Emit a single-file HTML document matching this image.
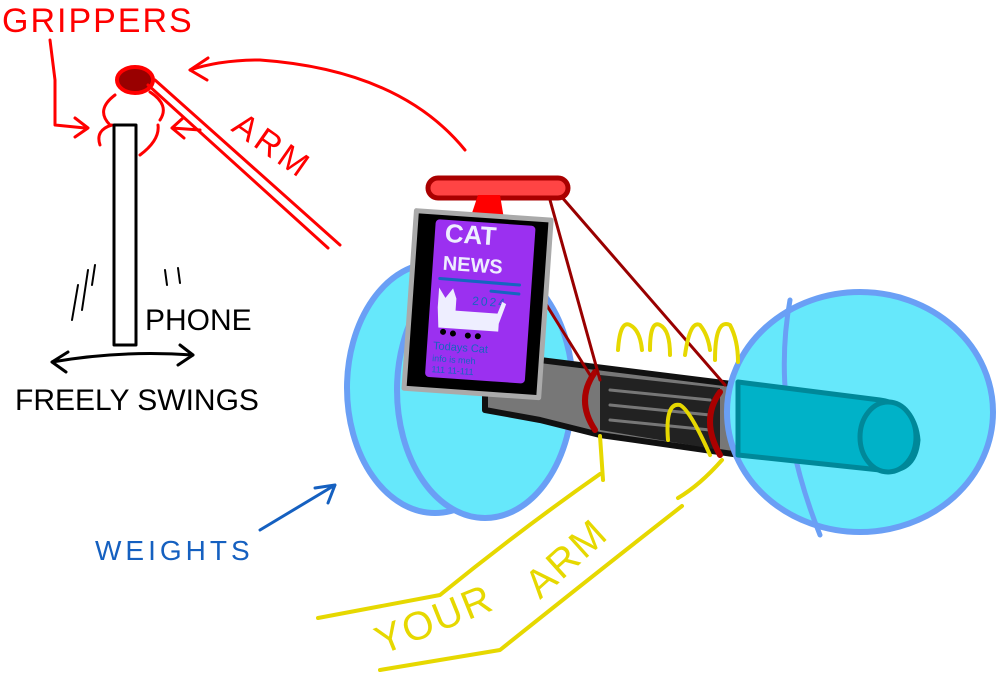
<!DOCTYPE html>
<html><head><meta charset="utf-8"><style>
html,body{margin:0;padding:0;background:#fff;}
svg{display:block;}
text{font-family:"Liberation Sans",sans-serif;}
</style></head><body>
<svg width="996" height="673" viewBox="0 0 996 673" xmlns="http://www.w3.org/2000/svg">
<g stroke-linecap="round" stroke-linejoin="round">
<!-- GRIPPERS -->
<text x="2" y="32" font-size="34" fill="#f00" letter-spacing="2">GRIPPERS</text>
<path d="M50 40 L55 80 L55 125 L85 128" stroke="#f00" stroke-width="3" fill="none"/>
<path d="M75 118 L88 128 L75 137" stroke="#f00" stroke-width="3" fill="none"/>
<!-- gripper -->
<path d="M110 125 Q95 110 115 95 M160 120 Q170 105 150 92 M100 145 Q95 130 112 125 M140 155 Q160 140 158 125" stroke="#f00" stroke-width="3" fill="none"/>
<ellipse cx="135" cy="80" rx="18" ry="13" fill="#900" stroke="#f00" stroke-width="4"/>
<!-- arm -->
<path d="M148 85 L328 248 M155 80 L340 245" stroke="#f00" stroke-width="3" fill="none"/>
<text x="230" y="130" font-size="34" fill="#f00" transform="rotate(35 230 130)" letter-spacing="4">ARM</text>
<path d="M172 128 L200 130 M172 128 L183 118 M172 128 L184 138" stroke="#f00" stroke-width="3" fill="none"/>
<path d="M465 150 Q400 70 260 60 Q220 60 190 70" stroke="#f00" stroke-width="3" fill="none"/>
<path d="M190 70 L208 58 M190 70 L207 80" stroke="#f00" stroke-width="3" fill="none"/>
<!-- phone stick -->
<rect x="114" y="125" width="22" height="220" fill="#fff" stroke="#000" stroke-width="3"/>
<path d="M78 285 L72 320 M88 270 L82 310 M95 265 L92 285 M165 270 L167 285 M178 268 L180 283" stroke="#000" stroke-width="2" fill="none"/>
<text x="145" y="330" font-size="30" fill="#000">PHONE</text>
<path d="M52 362 Q120 350 193 355 M52 362 L68 352 M52 362 L66 372 M193 355 L180 345 M193 355 L178 365" stroke="#000" stroke-width="3" fill="none"/>
<text x="15" y="410" font-size="30" fill="#000">FREELY SWINGS</text>
<!-- WEIGHTS -->
<text x="95" y="560" font-size="28" fill="#1560c0" letter-spacing="4">WEIGHTS</text>
<path d="M260 530 L335 485 M335 485 L315 488 M335 485 L328 503" stroke="#1560c0" stroke-width="3" fill="none"/>
<!-- left weight -->
<ellipse cx="435" cy="388" rx="88" ry="125" fill="#66e8fb" stroke="#6a9ff5" stroke-width="6"/>
<ellipse cx="485" cy="390" rx="88" ry="128" fill="#66e8fb" stroke="#6a9ff5" stroke-width="6"/>
<!-- bar -->
<path d="M485 395 L540 360 L740 385 L740 455 L600 435 L540 420 L485 410 Z" fill="#777" stroke="#111" stroke-width="6"/>
<path d="M600 375 L720 388 L720 450 L600 430 Z" fill="#222"/>
<path d="M610 390 L710 400 M610 405 L710 415 M610 420 L710 430" stroke="#777" stroke-width="3"/>
<path d="M595 372 Q575 400 595 430 M720 392 Q700 420 720 455" stroke="#a00" stroke-width="6" fill="none"/>
<!-- right weight -->
<ellipse cx="860" cy="412" rx="133" ry="120" fill="#66e8fb" stroke="#6a9ff5" stroke-width="6"/>
<path d="M790 300 Q770 410 820 535" stroke="#6a9ff5" stroke-width="5" fill="none"/>
<path d="M738 382 L880 400 Q915 405 918 440 Q915 475 880 470 L738 455 Z" fill="#00b2c8" stroke="#008899" stroke-width="5"/>
<ellipse cx="888" cy="437" rx="28" ry="35" fill="#00b2c8" stroke="#008899" stroke-width="5"/>
<!-- strings -->
<path d="M560 195 L725 385 M550 200 L600 380 M500 230 L590 375" stroke="#900" stroke-width="3" fill="none"/>
<!-- handle -->
<rect x="428" y="178" width="140" height="20" rx="10" fill="#f44" stroke="#a00" stroke-width="5"/>
<path d="M478 195 L500 195 L505 225 L468 225 Z" fill="#f00"/>
<!-- phone card -->
<g transform="rotate(4 475 305)">
<rect x="410" y="215" width="135" height="178" fill="#000" stroke="#aaa" stroke-width="5"/>
<rect x="430" y="222" width="100" height="158" rx="4" fill="#9b30f0"/>
<text x="440" y="244" font-size="26" font-weight="bold" fill="#eef">CAT</text>
<text x="440" y="272" font-size="20" font-weight="bold" fill="#eef">NEWS</text>
<line x1="438" y1="281" x2="518" y2="282" stroke="#1565c0" stroke-width="3"/>
<line x1="490" y1="290" x2="518" y2="291" stroke="#1565c0" stroke-width="3"/>
<text x="472" y="305" font-size="12" fill="#1565c0" letter-spacing="2">2024</text>
<path d="M438 290 L445 300 L452 290 L456 300 L456 312 L498 312 L502 300 L506 302 L500 322 L500 330 L440 330 L438 310 Z" fill="#eef"/>
<circle cx="445" cy="334" r="3" fill="#000"/><circle cx="455" cy="335" r="3" fill="#000"/><circle cx="470" cy="336" r="3" fill="#000"/><circle cx="480" cy="336" r="3" fill="#000"/>
<text x="436" y="352" font-size="11" fill="#1565c0">Todays Cat</text>
<text x="436" y="364" font-size="9" fill="#1565c0">info is meh</text>
<text x="436" y="375" font-size="9" fill="#1565c0">111 11-111</text>
</g>
<!-- yellow -->
<path d="M618 350 Q620 320 630 325 Q640 330 642 350 M650 350 Q650 320 660 325 Q670 330 670 355 M685 355 Q690 320 700 325 Q708 335 710 350 M715 360 Q715 318 730 325 Q738 340 738 362" stroke="#e6d800" stroke-width="4" fill="none"/>
<path d="M668 440 Q665 402 680 405 Q690 410 710 455" stroke="#e6d800" stroke-width="4" fill="none"/>
<path d="M600 436 L603 480 M600 474 Q520 530 440 595 L318 618" stroke="#e6d800" stroke-width="4" fill="none"/>
<path d="M722 460 Q700 485 678 498 M682 506 Q600 570 500 650 L380 670" stroke="#e6d800" stroke-width="4" fill="none"/>
<text x="382" y="655" font-size="40" fill="#e6d800" transform="rotate(-22 382 655)" letter-spacing="2">YOUR</text>
<text x="540" y="600" font-size="40" fill="#e6d800" transform="rotate(-42 540 600)" letter-spacing="2">ARM</text>
</g>
</svg>
</body></html>
